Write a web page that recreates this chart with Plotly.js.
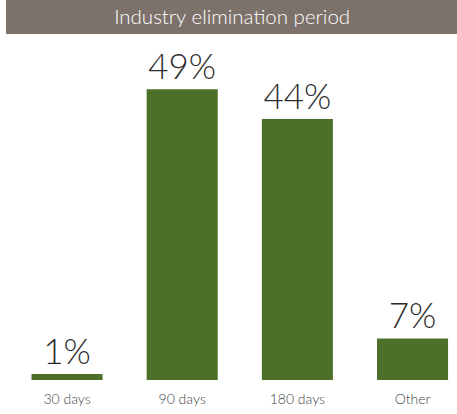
<!DOCTYPE html>
<html><head><meta charset="utf-8">
<script src="https://cdn.plot.ly/plotly-3.0.1.min.js"></script>
<style>html,body{margin:0;padding:0;background:#fff}#chart{width:457px;height:414px}</style>
</head><body><div id="chart"></div>
<script>
const categories = ['30 days', '90 days', '180 days', 'Other'];
const values = [1, 49, 44, 7];
const chartTitle = 'Industry elimination period';

const trace = {
  type: 'bar',
  x: categories,
  y: values,
  marker: {color: '#4c7029'},
  texttemplate: '%{y}%',
  textposition: 'outside',
  constraintext: 'none',
  cliponaxis: false,
  textfont: {family: 'Lato, sans-serif', size: 35, color: '#2b2b2b', weight: 300},
  hoverinfo: 'skip'
};

const layout = {
  width: 457, height: 414,
  margin: {l: 0, r: 0, t: 40, b: 34},
  paper_bgcolor: '#fff', plot_bgcolor: '#fff',
  bargap: 0.383,
  showlegend: false,
  title: {text: chartTitle, x: 0.508, xanchor: 'center', y: 1 - 17/414, yanchor: 'middle', yref: 'container',
          font: {family: 'Lato, sans-serif', size: 20.5, color: '#ffffff', weight: 300}},
  xaxis: {type: 'category', range: [-0.582, 3.386], showgrid: false, zeroline: false, showline: false,
          ticks: '', ticklabelstandoff: 9,
          tickfont: {family: 'Lato, sans-serif', size: 14, color: '#444', weight: 300}, fixedrange: true},
  yaxis: {range: [0, 57.3], visible: false, fixedrange: true},
  shapes: [{type: 'rect', xref: 'paper', yref: 'paper', x0: 6/457, x1: 1, y0: (380-34)/340, y1: 380/340,
            fillcolor: '#7d716b', line: {width: 0}, layer: 'below'}]
};

Plotly.newPlot('chart', [trace], layout, {displayModeBar: false, staticPlot: true});
</script></body></html>
